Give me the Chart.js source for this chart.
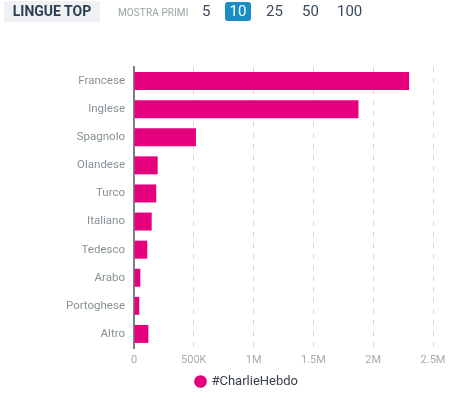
<!DOCTYPE html>
<html><head><meta charset="utf-8">
<script src="https://cdn.jsdelivr.net/npm/chart.js@4"></script>
<style>
html,body{margin:0;padding:0;background:#fff;width:467px;height:393px;overflow:hidden;font-family:Roboto,"Noto Sans",sans-serif;}
#hdr{position:absolute;left:0;top:0;width:467px;height:26px;}
#title{position:absolute;left:4px;top:1px;width:96px;height:21px;background:#eff1f4;color:#2c3e50;font-weight:bold;font-size:14px;line-height:21px;text-align:center;}
#mp{position:absolute;left:118px;top:7px;font-size:10px;color:#9aa5a8;letter-spacing:0.1px;}
.n{position:absolute;top:2px;font-size:15px;line-height:19px;color:#3a4a5a;}
#sel{position:absolute;left:225px;top:2px;width:26px;height:19px;background:#1a8dc6;border-radius:3px;color:#fff;text-align:center;font-size:15px;line-height:19px;}
#wrap{position:absolute;left:0;top:0;width:467px;height:393px;}
</style></head>
<body>
<div id="wrap"><canvas id="c" width="467" height="393"></canvas></div>
<div id="hdr">
<div id="title">LINGUE TOP</div>
<div id="mp">MOSTRA PRIMI</div>
<div class="n" style="left:202px">5</div>
<div id="sel">10</div>
<div class="n" style="left:266px">25</div>
<div class="n" style="left:302px">50</div>
<div class="n" style="left:337px">100</div>
</div>
<script>
const categories = ["Francese","Inglese","Spagnolo","Olandese","Turco","Italiano","Tedesco","Arabo","Portoghese","Altro"];
const seriesName = "#CharlieHebdo";
const values = [2300000,1877000,518000,198000,186000,148000,111000,53000,44000,120000];
const tickValues = [0,500000,1000000,1500000,2000000,2500000];
const tickLabels = ["0","500K","1M","1.5M","2M","2.5M"];

const pink = "#e5007e";
new Chart(document.getElementById("c"), {
  type: "bar",
  data: { labels: categories, datasets: [{ label: seriesName, data: values, backgroundColor: pink, borderWidth: 0, categoryPercentage: 1, barPercentage: 0.64 }] },
  options: {
    indexAxis: "y", responsive: false, animation: false, devicePixelRatio: 1,
    layout: { padding: { top: 67, right: 0, left: 27, bottom: -5 } },
    plugins: {
      tooltip: { enabled: false },
      legend: { position: "bottom", labels: { usePointStyle: true, pointStyle: "circle", boxWidth: 9, boxHeight: 9, color: "#3a4048", font: { family: "Roboto", size: 13 }, padding: 3 } }
    },
    scales: {
      x: {
        min: 0, max: 2500000,
        afterBuildTicks: s => { s.ticks = tickValues.map(v => ({ value: v })); },
        afterFit: s => { s.height = 24; },
        ticks: { callback: (v, i) => tickLabels[i], color: "#a3abae", font: { family: "Roboto", size: 11 }, padding: 6, maxRotation: 0 },
        grid: { color: "#d5d8da", drawTicks: false, lineWidth: 1 },
        border: { display: false, dash: [5, 6] }
      },
      y: {
        afterFit: s => { s.width = 107; },
        ticks: { color: "#869195", font: { family: "Roboto", size: 11.5 }, padding: 9 },
        grid: { display: false, drawTicks: false },
        border: { display: true, color: "#7a8084", width: 2 }
      },
      pad: {
        axis: "y", position: "right", display: true,
        afterFit: s => { s.width = 34; },
        ticks: { display: false },
        grid: { display: false, drawTicks: false },
        border: { display: false }
      }
    }
  }
});
</script>
</body></html>
